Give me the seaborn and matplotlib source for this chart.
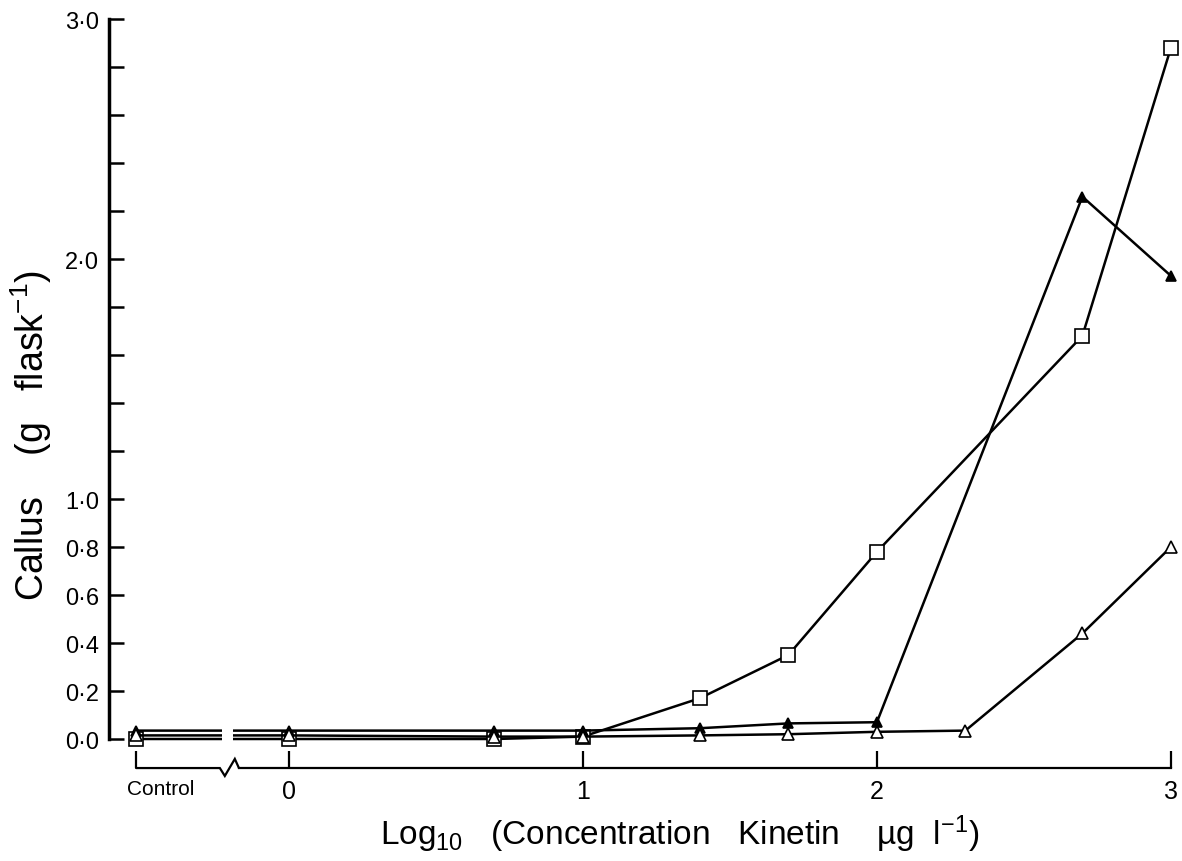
import numpy as np
import pandas as pd
import matplotlib
matplotlib.use("Agg")
import matplotlib.pyplot as plt
from matplotlib.patches import Rectangle
from matplotlib.transforms import ScaledTranslation
import seaborn as sns

# Kinetin concentrations (µg l-1); the untreated control sits left of the axis break
concentrations = ["Control", 1, 5, 10, 25, 50, 100, 200, 500, 1000]
control_pos = -0.52

# Callus yield (g flask-1) for the three treatments; None = not measured
callus_square = [0.00, 0.00, 0.00, 0.01, 0.17, 0.35, 0.78, None, 1.68, 2.88]
callus_filled_tri = [0.035, 0.035, 0.035, 0.035, 0.045, 0.065, 0.07, None, 2.26, 1.93]
callus_open_tri = [0.015, 0.015, 0.01, 0.01, 0.015, 0.02, 0.03, 0.035, 0.44, 0.80]

y_ticks = np.round(np.arange(0, 3.01, 0.2), 1)
y_labelled = [0.0, 0.2, 0.4, 0.6, 0.8, 1.0, 2.0, 3.0]
x_ticks = [0, 1, 2, 3]

sns.set_style("white")
plt.rcParams["font.family"] = ["Liberation Sans", "DejaVu Sans"]
plt.rcParams["mathtext.fontset"] = "custom"
plt.rcParams["mathtext.rm"] = "Liberation Sans"
plt.rcParams["mathtext.it"] = "Liberation Sans:italic"
plt.rcParams["mathtext.bf"] = "Liberation Sans:bold"
plt.rcParams["text.color"] = "black"
plt.rcParams["axes.labelcolor"] = "black"


def position(c):
    return control_pos if c == "Control" else np.log10(c)


rows = []
for name, values in [("square", callus_square),
                     ("filled", callus_filled_tri),
                     ("open", callus_open_tri)]:
    for c, v in zip(concentrations, values):
        if v is not None:
            rows.append({"series": name, "log_conc": position(c), "callus": v})
df = pd.DataFrame(rows)

fig = plt.figure(figsize=(11.82, 8.62), dpi=100)
ax = fig.add_axes([109 / 1182, 1 - 800 / 862, 1071 / 1182, 790 / 862])
ax.set_xlim(-0.612, 3.031)
ax.set_ylim(-0.25, 3.042)

styles = {
    "square": dict(marker="s", markersize=9.5, markerfacecolor="white"),
    "filled": dict(marker="^", markersize=7.5, markerfacecolor="black"),
    "open": dict(marker="^", markersize=9, markerfacecolor="white"),
}
for name, kw in styles.items():
    sub = df[df["series"] == name]
    sns.lineplot(data=sub, x="log_conc", y="callus", ax=ax, color="black",
                 linewidth=1.8, markeredgecolor="black", markeredgewidth=1.2,
                 estimator=None, sort=True, legend=False, **kw)

# break in the curves between control and the first concentration
ax.add_patch(Rectangle((-0.228, -0.05), 0.038, 0.13, facecolor="white",
                       edgecolor="none", zorder=5))

# axes: detached x axis with a broken segment for the control
x_axis_y = -0.121
for s in ["top", "right"]:
    ax.spines[s].set_visible(False)
ax.spines["left"].set_bounds(0, 3)
ax.spines["left"].set_linewidth(2.5)
ax.spines["left"].set_color("black")
ax.spines["bottom"].set_position(("data", x_axis_y))
ax.spines["bottom"].set_bounds(-0.17, 3.0)
ax.spines["bottom"].set_linewidth(1.6)
ax.spines["bottom"].set_color("black")
ax.plot([control_pos, -0.235, -0.218, -0.184, -0.170],
        [x_axis_y, x_axis_y, x_axis_y - 0.033, x_axis_y + 0.038, x_axis_y],
        color="black", linewidth=1.6, clip_on=False, solid_joinstyle="miter")

ax.set_xticks([control_pos] + x_ticks)
ax.set_xticklabels(["Control"] + [str(t) for t in x_ticks])
ax.tick_params(axis="x", bottom=True, direction="in", length=12, width=1.6,
               pad=8, labelsize=18, colors="black")
ctrl_label = ax.get_xticklabels()[0]
ctrl_label.set_fontsize(15)
ctrl_label.set_horizontalalignment("left")
ctrl_label.set_transform(ctrl_label.get_transform()
                         + ScaledTranslation(-9 / 100, 0, fig.dpi_scale_trans))

ax.set_yticks(y_ticks)
ax.set_yticklabels([f"{v:.1f}".replace(".", "·")
                    if np.any(np.isclose(v, y_labelled)) else "" for v in y_ticks])
ax.tick_params(axis="y", left=True, direction="in", length=11, width=1.8, pad=7,
               labelsize=17, colors="black")

ax.set_xlabel("Log$_{10}$   (Concentration   Kinetin    µg  l$^{-1}$)", fontsize=24)
ax.xaxis.set_label_coords(0.533, -0.057)
ax.xaxis.label.set_verticalalignment("baseline")

ax.set_ylabel("Callus    (g   flask$^{-1}$)", fontsize=27)
ax.yaxis.set_label_coords(-0.0728, 0.462)
ax.yaxis.label.set_verticalalignment("center")

fig.savefig("out.png", dpi=100)
